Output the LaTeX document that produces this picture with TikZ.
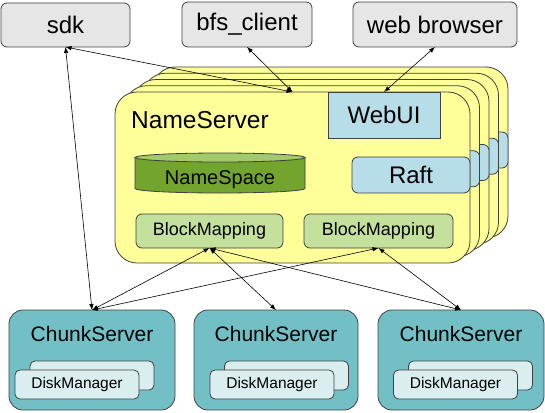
\documentclass[tikz,border=0pt]{standalone}
\usepackage{fontspec}
\setmainfont{Liberation Sans}
\usetikzlibrary{arrows.meta}
\definecolor{bordergray}{HTML}{404040}
\definecolor{topgray}{HTML}{E6E6E6}
\definecolor{nsyellow}{HTML}{FFFF99}
\definecolor{lblue}{HTML}{B7DEE8}
\definecolor{cylbody}{HTML}{72A42E}
\definecolor{cyltop}{HTML}{A2C96A}
\definecolor{bmgreen}{HTML}{C3E09C}
\definecolor{csteal}{HTML}{72BFC5}
\definecolor{dmlight}{HTML}{DAEEF0}
\tikzset{
  box/.style={draw=bordergray, line width=0.8pt, inner sep=0pt, outer sep=0pt},
  topbox/.style={box, fill=topgray, rounded corners=6pt, font=\fontsize{24}{28}\selectfont},
  nsbox/.style={box, fill=nsyellow, rounded corners=22pt, minimum width=355pt, minimum height=171pt},
  raftbox/.style={box, fill=lblue, rounded corners=6pt, minimum width=118pt, minimum height=36pt, font=\fontsize{24}{28}\selectfont},
  webbox/.style={box, fill=lblue, minimum width=112pt, minimum height=46pt, font=\fontsize{24}{28}\selectfont},
  bmbox/.style={box, fill=bmgreen, rounded corners=6pt, minimum height=34pt, font=\fontsize{18}{22}\selectfont},
  csbox/.style={box, fill=csteal, rounded corners=14pt, minimum height=100pt},
  dmbox/.style={box, fill=dmlight, rounded corners=5pt, minimum width=124pt, minimum height=29pt, font=\fontsize{15.5}{18}\selectfont},
  cstext/.style={font=\fontsize{21}{25}\selectfont, inner sep=0pt},
  conn/.style={line width=0.6pt, draw=black, {Latex[length=6pt,width=4.5pt]}-{Latex[length=6pt,width=4.5pt]}},
}
\begin{document}
\begin{tikzpicture}[x=1pt,y=-1pt]
\useasboundingbox (0,0) rectangle (545,412);
% top clients
\node[topbox, minimum width=129pt, minimum height=44pt] (sdk) at (65.5,25) {sdk};
\node[topbox, minimum width=130pt, minimum height=45pt] (bfs) at (247,24.5) {bfs\_client};
\node[topbox, minimum width=164pt, minimum height=45pt] (web) at (435,24.5) {web browser};
% back NameServer copies
\foreach \k in {4,3,2,1}{
  \begin{scope}[shift={(9.5*\k,-6.25*\k)}]
    \node[nsbox] (ns\k) at (292.5,177.5) {};
    \node[raftbox] (raft\k) at (411,175) {};
  \end{scope}
}
% front NameServer
\node[nsbox] (ns) at (292.5,177.5) {};
\node[anchor=west, font=\fontsize{24.5}{28}\selectfont, inner sep=0pt] (nslabel) at (131,120) {NameServer};
\node[webbox] (webui) at (384,115) {WebUI};
\node[raftbox] (raft) at (411,175) {Raft};
% NameSpace cylinder
\draw[line width=0.8pt, draw=bordergray, fill=cylbody] (135,157.5) -- (135,188.5)
  arc[start angle=180, end angle=0, x radius=85, y radius=4.5] -- (305,157.5) -- cycle;
\draw[line width=0.8pt, draw=bordergray, fill=cyltop] (220,157.5) ellipse[x radius=85, y radius=4.5];
\node[font=\fontsize{20}{24}\selectfont, inner sep=0pt] (namespace) at (220,180) {NameSpace};
% BlockMappings
\node[bmbox, minimum width=147pt] (bm1) at (209.5,231) {BlockMapping};
\node[bmbox, minimum width=149pt] (bm2) at (378.5,231) {BlockMapping};
% ChunkServers
\node[csbox, minimum width=166pt] (cs1) at (92,360) {};
\node[csbox, minimum width=164pt] (cs2) at (276,360) {};
\node[csbox, minimum width=166pt] (cs3) at (461,360) {};
\node[cstext] (cs1t) at (92,333.5) {ChunkServer};
\node[cstext] (cs2t) at (276,333.5) {ChunkServer};
\node[cstext] (cs3t) at (461,333.5) {ChunkServer};
% DiskManagers
\node[dmbox] (dm1b) at (92,375.5) {};
\node[dmbox] (dm1) at (77,384.5) {DiskManager};
\node[dmbox] (dm2b) at (286.5,375.5) {};
\node[dmbox] (dm2) at (272,384.5) {DiskManager};
\node[dmbox] (dm3b) at (470.5,375.5) {};
\node[dmbox] (dm3) at (455.5,384.5) {DiskManager};
% connectors
\draw[conn] (sdk.south) -- (ns.north);
\draw[conn] (bfs.south) -- (ns.north);
\draw[conn] (web.south) -- (webui.north);
\draw[conn] (sdk.south) -- (cs1.north);
\draw[conn] (bm1.south) -- (cs1.north);
\draw[conn] (bm1.south) -- (cs2.north);
\draw[conn] (bm1.south) -- (cs3.north);
\draw[conn] (bm2.south) -- (cs1.north);
\draw[conn] (bm2.south) -- (cs3.north);
\end{tikzpicture}
\end{document}
